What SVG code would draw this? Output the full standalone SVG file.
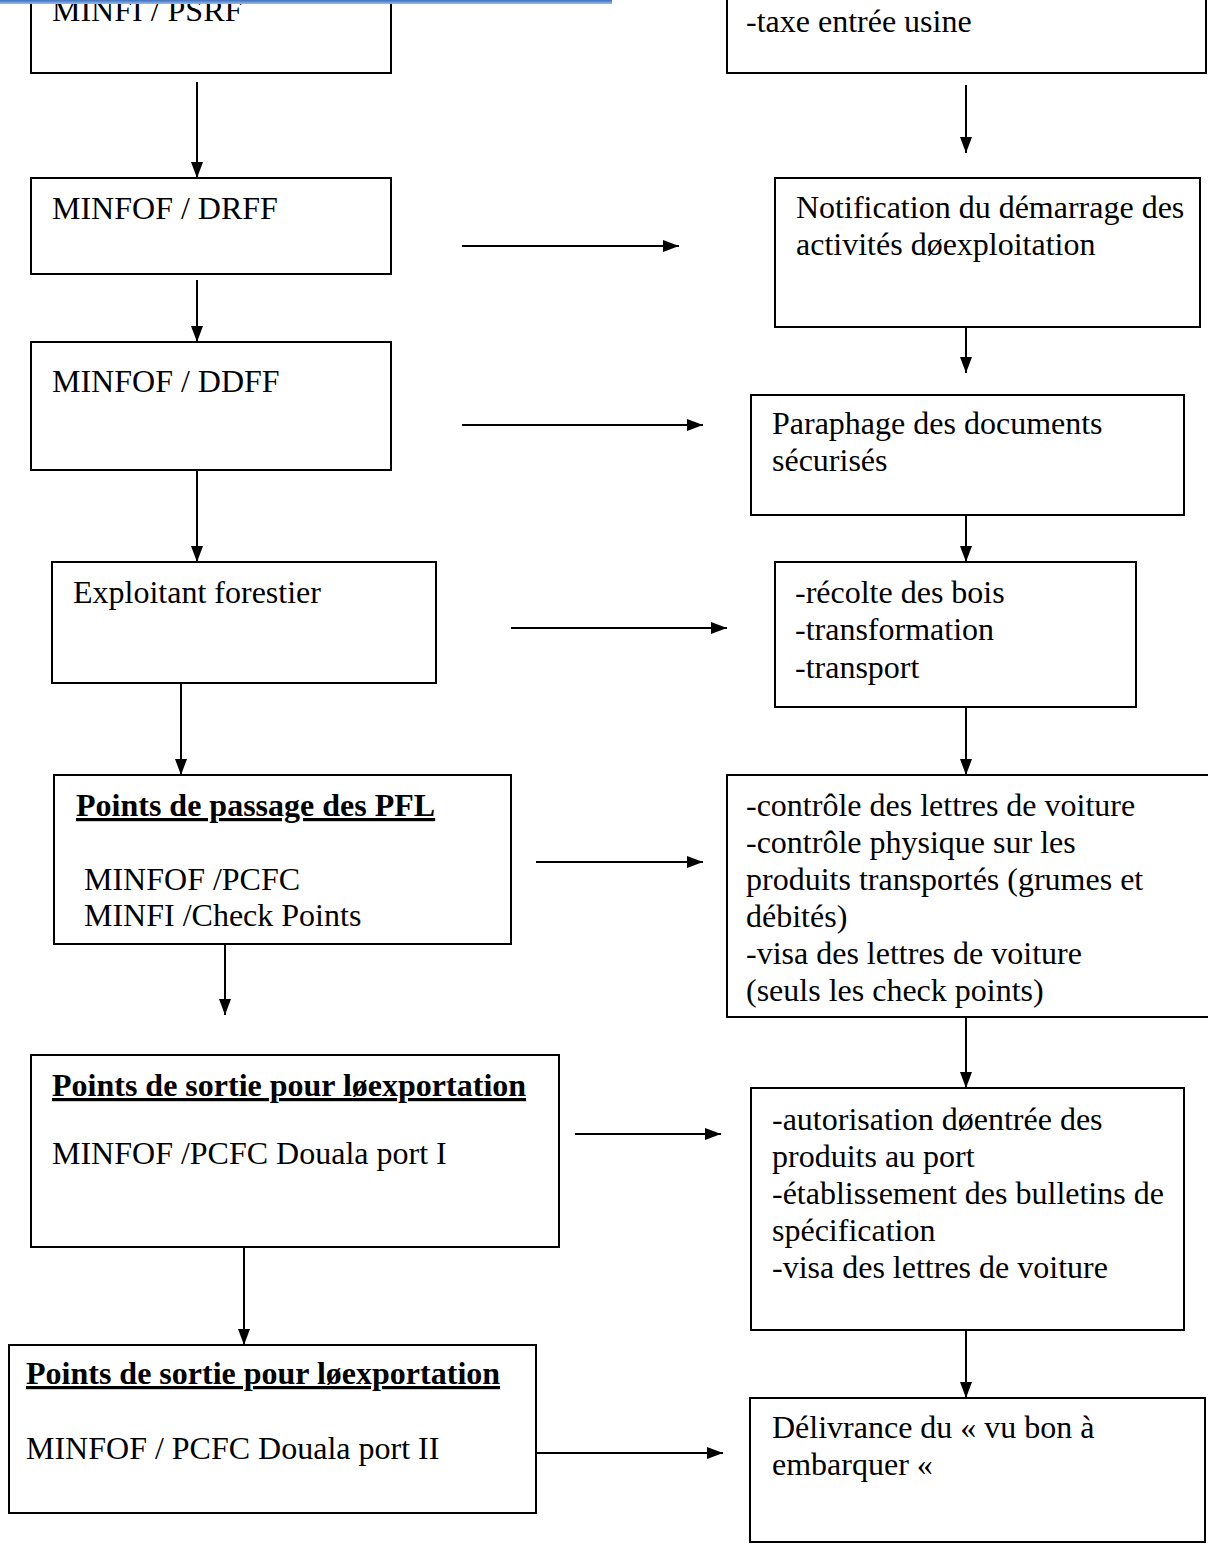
<svg xmlns="http://www.w3.org/2000/svg" width="1208" height="1550" viewBox="0 0 1208 1550">
<style>
.box{fill:#fff;stroke:#000;stroke-width:2}
.t{font-family:"Liberation Serif","Times New Roman",serif;font-size:32px;fill:#000}
.b{font-weight:bold;text-decoration:underline}
.c{stroke:#000;stroke-width:2;fill:none;marker-end:url(#ah)}
</style>
<defs>
<marker id="ah" viewBox="0 0 16 12" refX="16" refY="6" markerWidth="16" markerHeight="12" markerUnits="userSpaceOnUse" orient="auto">
<path d="M0,0 L16,6 L0,12 z" fill="#000"/>
</marker>
<linearGradient id="bar" x1="0" y1="0" x2="0" y2="1">
<stop offset="0" stop-color="#3c6fc0"/>
<stop offset="1" stop-color="#9dbbe6"/>
</linearGradient>
</defs>
<rect width="1208" height="1550" fill="#fff"/>

<g id="n1"><rect class="box" x="31" y="-20" width="360" height="93"/><text class="t" x="52" y="21">MINFI / PSRF</text></g>
<g id="n2"><rect class="box" x="31" y="178" width="360" height="96"/><text class="t" x="52" y="219">MINFOF / DRFF</text></g>
<g id="n3"><rect class="box" x="31" y="342" width="360" height="128"/><text class="t" x="52" y="392">MINFOF / DDFF</text></g>
<g id="n4"><rect class="box" x="52" y="562" width="384" height="121"/><text class="t" x="73" y="603">Exploitant forestier</text></g>
<g id="n5"><rect class="box" x="54" y="775" width="457" height="169"/><text class="t b" x="76" y="816">Points de passage des PFL</text><text class="t" x="84" y="890">MINFOF /PCFC</text><text class="t" x="84" y="926">MINFI /Check Points</text></g>
<g id="n6"><rect class="box" x="31" y="1055" width="528" height="192"/><text class="t b" x="52" y="1096">Points de sortie pour løexportation</text><text class="t" x="52" y="1164">MINFOF /PCFC Douala port I</text></g>
<g id="n7"><rect class="box" x="9" y="1345" width="527" height="168"/><text class="t b" x="26" y="1384">Points de sortie pour løexportation</text><text class="t" x="26" y="1459">MINFOF / PCFC Douala port II</text></g>

<g id="r1"><rect class="box" x="727" y="-20" width="479" height="93"/><text class="t" x="746" y="32">-taxe entrée usine</text></g>
<g id="r2"><rect class="box" x="775" y="178" width="425" height="149"/><text class="t" x="796" y="218">Notification du démarrage des</text><text class="t" x="796" y="255">activités døexploitation</text></g>
<g id="r3"><rect class="box" x="751" y="395" width="433" height="120"/><text class="t" x="772" y="434">Paraphage des documents</text><text class="t" x="772" y="471">sécurisés</text></g>
<g id="r4"><rect class="box" x="775" y="562" width="361" height="145"/><text class="t" x="795" y="603">-récolte des  bois</text><text class="t" x="795" y="640">-transformation</text><text class="t" x="795" y="678">-transport</text></g>
<g id="r5"><rect class="box" x="727" y="775" width="484" height="242"/><text class="t" x="746" y="816">-contrôle des lettres de voiture</text><text class="t" x="746" y="853">-contrôle physique sur les</text><text class="t" x="746" y="890">produits transportés (grumes et</text><text class="t" x="746" y="927">débités)</text><text class="t" x="746" y="964">-visa des lettres de voiture</text><text class="t" x="746" y="1001">(seuls les check points)</text></g>
<g id="r6"><rect class="box" x="751" y="1088" width="433" height="242"/><text class="t" x="772" y="1130">-autorisation døentrée des</text><text class="t" x="772" y="1167">produits au port</text><text class="t" x="772" y="1204">-établissement des bulletins de</text><text class="t" x="772" y="1241">spécification</text><text class="t" x="772" y="1278">-visa des lettres de voiture</text></g>
<g id="r7"><rect class="box" x="750" y="1398" width="455" height="144"/><text class="t" x="772" y="1438">Délivrance du « vu bon à</text><text class="t" x="772" y="1475">embarquer «</text></g>

<g id="connectors">
<line class="c" x1="197" y1="82" x2="197" y2="178"/>
<line class="c" x1="197" y1="280" x2="197" y2="342"/>
<line class="c" x1="197" y1="470" x2="197" y2="562"/>
<line class="c" x1="181" y1="683" x2="181" y2="775"/>
<line class="c" x1="225" y1="944" x2="225" y2="1015"/>
<line class="c" x1="244" y1="1247" x2="244" y2="1345"/>
<line class="c" x1="966" y1="85" x2="966" y2="153"/>
<line class="c" x1="966" y1="327" x2="966" y2="373"/>
<line class="c" x1="966" y1="515" x2="966" y2="562"/>
<line class="c" x1="966" y1="707" x2="966" y2="775"/>
<line class="c" x1="966" y1="1017" x2="966" y2="1088"/>
<line class="c" x1="966" y1="1330" x2="966" y2="1398"/>
<line class="c" x1="462" y1="246" x2="679" y2="246"/>
<line class="c" x1="462" y1="425" x2="703" y2="425"/>
<line class="c" x1="511" y1="628" x2="727" y2="628"/>
<line class="c" x1="536" y1="862" x2="703" y2="862"/>
<line class="c" x1="575" y1="1134" x2="721" y2="1134"/>
<line class="c" x1="536" y1="1453" x2="723" y2="1453"/>
</g>
<rect x="0" y="0" width="612" height="4" fill="url(#bar)"/>
</svg>
